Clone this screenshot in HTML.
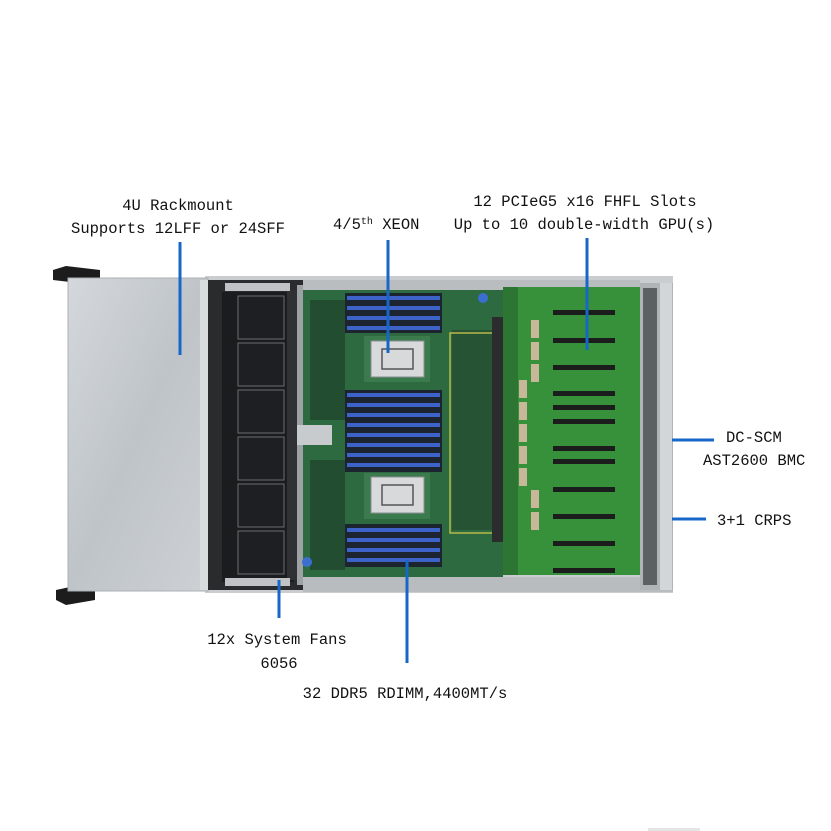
<!DOCTYPE html>
<html><head><meta charset="utf-8"><style>
html,body{margin:0;padding:0;background:#fff;width:831px;height:831px;overflow:hidden}
svg{display:block}
text{font-family:"Liberation Mono","Noto Sans CJK SC",monospace;font-size:15.5px;fill:#111}
</style></head><body>
<svg width="831" height="831" viewBox="0 0 831 831" xmlns="http://www.w3.org/2000/svg">
<defs>
<linearGradient id="cage" x1="0" x2="1" y1="0" y2="1"><stop offset="0" stop-color="#d4d8dc"/><stop offset="0.5" stop-color="#bfc4c8"/><stop offset="1" stop-color="#cdd1d5"/></linearGradient>
</defs>
<path d="M53 270 L66 266 L100 270 L100 282 L70 282 L53 280 Z" fill="#1c1c1c"/>
<path d="M56 590 L70 587 L95 588 L95 600 L66 605 L56 600 Z" fill="#1c1c1c"/>
<rect x="205" y="276" width="468" height="317" fill="#c9cdd0"/>
<rect x="68" y="278" width="140" height="313" fill="url(#cage)" stroke="#aab0b4"/>
<rect x="200" y="280" width="8" height="310" fill="#d8dcdf"/>
<rect x="208" y="280" width="95" height="310" fill="#2a2b2d"/>
<rect x="222" y="292" width="72" height="290" fill="#1b1c1e"/>
<g fill="#1e1f22" stroke="#6a6d70" stroke-width="1">
<rect x="238" y="296" width="46" height="43"/>
<rect x="238" y="343" width="46" height="43"/>
<rect x="238" y="390" width="46" height="43"/>
<rect x="238" y="437" width="46" height="43"/>
<rect x="238" y="484" width="46" height="43"/>
<rect x="238" y="531" width="46" height="43"/>
</g>
<rect x="287" y="290" width="10" height="290" fill="#2f3134"/>
<rect x="297" y="285" width="6" height="300" fill="#9da2a6"/>
<rect x="225" y="283" width="65" height="8" fill="#bfc3c6"/>
<rect x="225" y="578" width="65" height="8" fill="#bfc3c6"/>
<rect x="303" y="289" width="200" height="290" fill="#2e6a40"/>
<rect x="303" y="577" width="370" height="15" fill="#b8bcbf"/>
<rect x="303" y="280" width="337" height="10" fill="#b9bdc0"/>
<g fill="#1d3b28">
<rect x="310" y="300" width="35" height="120" opacity="0.6"/>
<rect x="310" y="460" width="35" height="110" opacity="0.6"/>
<rect x="452" y="330" width="40" height="200" opacity="0.5"/>
</g>
<rect x="450" y="333" width="44" height="200" fill="none" stroke="#b9b84a" stroke-width="1.5"/>
<g>
<rect x="345" y="293" width="97" height="40" fill="#1c2430"/>
<rect x="345" y="390" width="97" height="82" fill="#1c2430"/>
<rect x="345" y="524" width="97" height="43" fill="#1c2430"/>
</g>
<g fill="#3e63c8">
<rect x="347" y="296" width="93" height="4"/><rect x="347" y="306" width="93" height="4"/><rect x="347" y="316" width="93" height="4"/><rect x="347" y="326" width="93" height="4"/>
<rect x="347" y="393" width="93" height="4"/><rect x="347" y="403" width="93" height="4"/><rect x="347" y="413" width="93" height="4"/><rect x="347" y="423" width="93" height="4"/>
<rect x="347" y="433" width="93" height="4"/><rect x="347" y="443" width="93" height="4"/><rect x="347" y="453" width="93" height="4"/><rect x="347" y="463" width="93" height="4"/>
<rect x="347" y="528" width="93" height="4"/><rect x="347" y="538" width="93" height="4"/><rect x="347" y="548" width="93" height="4"/><rect x="347" y="558" width="93" height="4"/>
</g>
<rect x="364" y="336" width="66" height="46" fill="#3b7a4c"/>
<rect x="371" y="341" width="53" height="36" fill="#d7d9da" stroke="#8b8f92"/>
<rect x="382" y="349" width="31" height="20" fill="none" stroke="#555" stroke-width="1.5"/>
<rect x="364" y="473" width="66" height="46" fill="#3b7a4c"/>
<rect x="371" y="477" width="53" height="36" fill="#d7d9da" stroke="#8b8f92"/>
<rect x="382" y="485" width="31" height="20" fill="none" stroke="#555" stroke-width="1.5"/>
<rect x="297" y="425" width="35" height="20" fill="#c8cbcd"/>
<circle cx="483" cy="298" r="5" fill="#3a6fd0"/>
<circle cx="307" cy="562" r="5" fill="#3a6fd0"/>
<rect x="492" y="317" width="11" height="225" fill="#2a2c2e"/>
<rect x="503" y="287" width="140" height="288" fill="#37913b"/>
<rect x="503" y="287" width="15" height="288" fill="#2c7533"/>
<g fill="#c9b79a">
<rect x="531" y="320" width="8" height="18"/><rect x="531" y="342" width="8" height="18"/><rect x="531" y="364" width="8" height="18"/>
<rect x="519" y="380" width="8" height="18"/><rect x="519" y="402" width="8" height="18"/><rect x="519" y="424" width="8" height="18"/><rect x="519" y="446" width="8" height="18"/><rect x="519" y="468" width="8" height="18"/>
<rect x="531" y="490" width="8" height="18"/><rect x="531" y="512" width="8" height="18"/>
</g>
<g fill="#1a1d1c">
<rect x="553" y="310" width="62" height="5"/><rect x="553" y="338" width="62" height="5"/><rect x="553" y="365" width="62" height="5"/>
<rect x="553" y="391" width="62" height="5"/><rect x="553" y="405" width="62" height="5"/><rect x="553" y="419" width="62" height="5"/>
<rect x="553" y="446" width="62" height="5"/><rect x="553" y="459" width="62" height="5"/><rect x="553" y="487" width="62" height="5"/>
<rect x="553" y="514" width="62" height="5"/><rect x="553" y="541" width="62" height="5"/><rect x="553" y="568" width="62" height="5"/>
</g>
<rect x="640" y="283" width="33" height="307" fill="#b0b4b7"/>
<rect x="643" y="288" width="14" height="297" fill="#5d6062"/>
<rect x="660" y="283" width="12" height="307" fill="#d3d6d8"/>
<g stroke="#1767c9" stroke-width="3" fill="none">
<line x1="180" y1="242" x2="180" y2="355"/>
<line x1="388" y1="240" x2="388" y2="353"/>
<line x1="587" y1="238" x2="587" y2="350"/>
<line x1="279" y1="580" x2="279" y2="618"/>
<line x1="407" y1="560" x2="407" y2="663"/>
<line x1="672" y1="440" x2="714" y2="440"/>
<line x1="672" y1="519" x2="706" y2="519"/>
</g>
<text x="178" y="210" text-anchor="middle">4U Rackmount</text>
<text x="178" y="233" text-anchor="middle">Supports 12LFF or 24SFF</text>
<text x="333" y="229">4/5<tspan font-size="10" dy="-5">th</tspan><tspan dy="5"> XEON</tspan></text>
<text x="585" y="206" text-anchor="middle">12 PCIeG5 x16 FHFL Slots</text>
<text x="584" y="229" text-anchor="middle">Up to 10 double-width GPU(s)</text>
<text x="726" y="442">DC-SCM</text>
<text x="703" y="465">AST2600 BMC</text>
<text x="717" y="525">3+1 CRPS</text>
<text x="277" y="644" text-anchor="middle">12x System Fans</text>
<text x="279" y="668" text-anchor="middle">6056</text>
<text x="405" y="698" text-anchor="middle">32 DDR5 RDIMM,4400MT/s</text>
<rect x="648" y="828" width="52" height="3" fill="#e3e5e7"/>
</svg>
</body></html>
